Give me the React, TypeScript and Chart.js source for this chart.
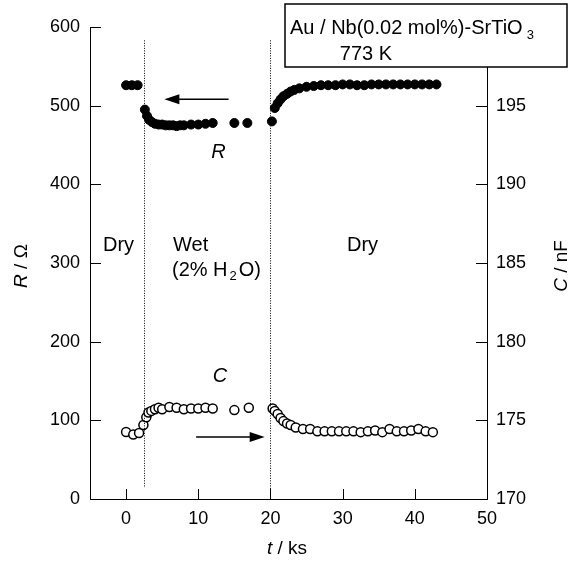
import React, { useEffect, useRef } from "react";
import { Chart, registerables } from "chart.js";

Chart.register(...registerables);

const rTime = [0, 0.8, 1.6, 2.6, 2.9, 3.2, 3.6, 4, 4.5, 5, 5.5, 6, 6.5, 7, 7.5, 8, 9, 10, 11, 12, 15, 16.8, 20.2, 20.6, 21, 21.4, 21.8, 22.3, 22.8, 23.3, 24, 25, 26, 27, 28, 29, 30, 31, 32, 33, 34, 35, 36, 37, 38, 39, 40, 41, 42, 43];
const rValues = [526, 526, 526, 495, 487, 482, 479, 477, 476, 476, 475, 475, 475, 474, 475, 475, 476, 476, 477, 478, 478, 478, 480, 497, 503, 508, 512, 515, 518, 520, 522, 524, 525, 526, 526, 526, 527, 527, 526, 526, 527, 527, 527, 527, 527, 527, 527, 527, 527, 527];

const cTime = [0, 1, 1.8, 2.4, 2.8, 3.1, 3.5, 4, 4.5, 5, 6, 7, 8, 9, 10, 11, 12, 15, 17, 20.3, 20.6, 21, 21.4, 21.8, 22.3, 22.8, 23.5, 24.5, 25.5, 26.5, 27.5, 28.5, 29.5, 30.5, 31.5, 32.5, 33.5, 34.5, 35.5, 36.5, 37.5, 38.5, 39.5, 40.5, 41.5, 42.5];
const cValues = [174.26, 174.1, 174.2, 174.7, 175.2, 175.5, 175.6, 175.7, 175.8, 175.7, 175.85, 175.8, 175.7, 175.75, 175.75, 175.8, 175.75, 175.65, 175.8, 175.75, 175.6, 175.4, 175.15, 174.95, 174.8, 174.7, 174.55, 174.45, 174.45, 174.3, 174.3, 174.3, 174.3, 174.3, 174.3, 174.25, 174.3, 174.35, 174.25, 174.45, 174.3, 174.3, 174.35, 174.45, 174.3, 174.25];

const xTicks = [0, 10, 20, 30, 40, 50];
const rTicks = [0, 100, 200, 300, 400, 500, 600];
const cTicks = [170, 175, 180, 185, 190, 195, 200];
const switchTimes = [2.5, 20];

const FONT = "Liberation Sans, Arial, sans-serif";

export default function App() {
  const ref = useRef<HTMLCanvasElement | null>(null);
  useEffect(() => {
    const canvas = ref.current!;
    const overlay = {
      id: "overlay",
      afterDatasetsDraw(chart: any) {
        const ctx = chart.ctx as CanvasRenderingContext2D;
        const xs = chart.scales.x;
        const ys = chart.scales.y;
        const y1 = chart.scales.y1;
        const area = chart.chartArea;
        ctx.save();
        // inward ticks
        ctx.strokeStyle = "#000";
        ctx.lineWidth = 1;
        ctx.beginPath();
        xTicks.forEach((t) => {
          const px = Math.round(xs.getPixelForValue(t)) + 0.5;
          ctx.moveTo(px, area.bottom);
          ctx.lineTo(px, area.bottom - 10);
        });
        rTicks.forEach((t) => {
          const py = Math.round(ys.getPixelForValue(t)) + 0.5;
          ctx.moveTo(area.left, py);
          ctx.lineTo(area.left + 11, py);
        });
        cTicks.forEach((t) => {
          const py = Math.round(y1.getPixelForValue(t)) + 0.5;
          ctx.moveTo(area.right, py);
          ctx.lineTo(area.right - 11, py);
        });
        ctx.stroke();
        // dotted switch lines
        ctx.setLineDash([1, 1.5]);
        ctx.beginPath();
        const s0 = Math.round(xs.getPixelForValue(switchTimes[0])) + 0.5;
        ctx.moveTo(s0, ys.getPixelForValue(583));
        ctx.lineTo(s0, ys.getPixelForValue(14));
        const s1 = Math.round(xs.getPixelForValue(switchTimes[1])) + 0.5;
        ctx.moveTo(s1, ys.getPixelForValue(583));
        ctx.lineTo(s1, ys.getPixelForValue(0));
        ctx.stroke();
        ctx.setLineDash([]);
        // arrows
        const arrow = (xa: number, xb: number, yy: number) => {
          const dir = xb > xa ? 1 : -1;
          ctx.beginPath();
          ctx.lineWidth = 1.5;
          ctx.moveTo(xa, yy);
          ctx.lineTo(xb - dir * 12, yy);
          ctx.stroke();
          ctx.beginPath();
          ctx.moveTo(xb, yy);
          ctx.lineTo(xb - dir * 15, yy - 5);
          ctx.lineTo(xb - dir * 15, yy + 5);
          ctx.closePath();
          ctx.fill();
        };
        ctx.fillStyle = "#000";
        arrow(xs.getPixelForValue(14.2), xs.getPixelForValue(5.3), ys.getPixelForValue(508));
        arrow(xs.getPixelForValue(9.7), xs.getPixelForValue(19.2), y1.getPixelForValue(173.94));
        ctx.lineWidth = 1;
        // text labels
        ctx.fillStyle = "#000";
        ctx.textBaseline = "middle";
        ctx.textAlign = "left";
        ctx.font = `20px ${FONT}`;
        ctx.fillText("Dry", 103, 245);
        ctx.fillText("Wet", 173, 245);
        ctx.fillText("Dry", 347, 245);
        let tx = 172;
        const p1 = "(2% H";
        ctx.fillText(p1, tx, 270);
        tx += ctx.measureText(p1).width + 2;
        ctx.font = `13px ${FONT}`;
        ctx.fillText("2", tx, 276);
        tx += ctx.measureText("2").width + 2;
        ctx.font = `20px ${FONT}`;
        ctx.fillText("O)", tx, 270);
        ctx.font = `italic 20px ${FONT}`;
        ctx.textAlign = "center";
        ctx.fillText("R", xs.getPixelForValue(12.8), ys.getPixelForValue(441));
        ctx.fillText("C", xs.getPixelForValue(13), y1.getPixelForValue(177.8));
        // legend box
        ctx.fillStyle = "#fff";
        ctx.fillRect(285, 4, 282, 63);
        ctx.strokeStyle = "#000";
        ctx.lineWidth = 1.5;
        ctx.strokeRect(285, 4, 282, 63);
        ctx.fillStyle = "#000";
        ctx.textAlign = "left";
        ctx.font = `20px ${FONT}`;
        const main = "Au / Nb(0.02 mol%)-SrTiO";
        ctx.fillText(main, 290, 28);
        const mw = ctx.measureText(main).width;
        ctx.font = `13px ${FONT}`;
        ctx.fillText("3", 290 + mw + 4, 35);
        ctx.font = `20px ${FONT}`;
        ctx.textAlign = "center";
        ctx.fillText("773 K", 366, 54);
        // axis titles
        const TF = 19;
        ctx.save();
        ctx.translate(22, 266);
        ctx.rotate(-Math.PI / 2);
        ctx.textAlign = "left";
        ctx.font = `italic ${TF}px ${FONT}`;
        const rw = ctx.measureText("R").width;
        ctx.font = `${TF}px ${FONT}`;
        const rest = " / \u03a9";
        const rw2 = ctx.measureText(rest).width;
        const start = -(rw + rw2) / 2;
        ctx.font = `italic ${TF}px ${FONT}`;
        ctx.fillText("R", start, 0);
        ctx.font = `${TF}px ${FONT}`;
        ctx.fillText(rest, start + rw, 0);
        ctx.restore();
        ctx.save();
        ctx.translate(562, 266);
        ctx.rotate(-Math.PI / 2);
        ctx.textAlign = "left";
        ctx.font = `italic ${TF}px ${FONT}`;
        const cw = ctx.measureText("C").width;
        ctx.font = `${TF}px ${FONT}`;
        const crest = " / nF";
        const cw2 = ctx.measureText(crest).width;
        const cs = -(cw + cw2) / 2;
        ctx.font = `italic ${TF}px ${FONT}`;
        ctx.fillText("C", cs, 0);
        ctx.font = `${TF}px ${FONT}`;
        ctx.fillText(crest, cs + cw, 0);
        ctx.restore();
        ctx.textAlign = "left";
        ctx.font = `italic ${TF}px ${FONT}`;
        const tw = ctx.measureText("t").width;
        ctx.font = `${TF}px ${FONT}`;
        const trest = " / ks";
        const tw2 = ctx.measureText(trest).width;
        const ts = 287 - (tw + tw2) / 2;
        ctx.font = `italic ${TF}px ${FONT}`;
        ctx.fillText("t", ts, 549);
        ctx.font = `${TF}px ${FONT}`;
        ctx.fillText(trest, ts + tw, 549);
        ctx.restore();
      },
    };
    const chart = new Chart(canvas, {
      type: "scatter",
      data: {
        datasets: [
          {
            label: "R",
            data: rTime.map((t, i) => ({ x: t, y: rValues[i] })),
            yAxisID: "y",
            pointRadius: 4.5,
            pointBackgroundColor: "#000",
            pointBorderColor: "#000",
            pointBorderWidth: 1,
            showLine: false,
          },
          {
            label: "C",
            data: cTime.map((t, i) => ({ x: t, y: cValues[i] })),
            yAxisID: "y1",
            pointRadius: 4.5,
            pointBackgroundColor: "#fff",
            pointBorderColor: "#000",
            pointBorderWidth: 1.5,
            showLine: false,
          },
        ],
      },
      options: {
        animation: false,
        responsive: false,
        layout: { padding: { top: 27, left: 0, right: 0, bottom: 0 } },
        plugins: { legend: { display: false }, tooltip: { enabled: false } },
        scales: {
          x: {
            type: "linear",
            min: -5,
            max: 50,
            afterBuildTicks: (s: any) => { s.ticks = xTicks.map((v) => ({ value: v })); },
            afterFit: (s: any) => { s.height = 65; },
            grid: { display: false, drawTicks: false },
            border: { display: true, color: "#000", width: 1 },
            ticks: { color: "#000", font: { family: FONT, size: 18 }, padding: 9, maxRotation: 0 },
          },
          y: {
            type: "linear",
            position: "left",
            min: 0,
            max: 600,
            afterBuildTicks: (s: any) => { s.ticks = rTicks.map((v) => ({ value: v })); },
            afterFit: (s: any) => { s.width = 90; },
            grid: { display: false, drawTicks: false },
            border: { display: true, color: "#000", width: 1 },
            ticks: { color: "#000", font: { family: FONT, size: 18 }, padding: 10 },
          },
          y1: {
            type: "linear",
            position: "right",
            min: 170,
            max: 200,
            afterBuildTicks: (s: any) => { s.ticks = cTicks.map((v) => ({ value: v })); },
            afterFit: (s: any) => { s.width = 84; },
            grid: { display: false, drawTicks: false },
            border: { display: true, color: "#000", width: 1 },
            ticks: { color: "#000", font: { family: FONT, size: 18 }, padding: 9 },
          },
        },
      },
      plugins: [overlay],
    });
    return () => chart.destroy();
  }, []);
  return (
    <div style={{ position: "fixed", left: 0, top: 0, width: 571, height: 564, background: "#fff" }}>
      <canvas ref={ref} width={571} height={564} style={{ display: "block" }} />
    </div>
  );
}
